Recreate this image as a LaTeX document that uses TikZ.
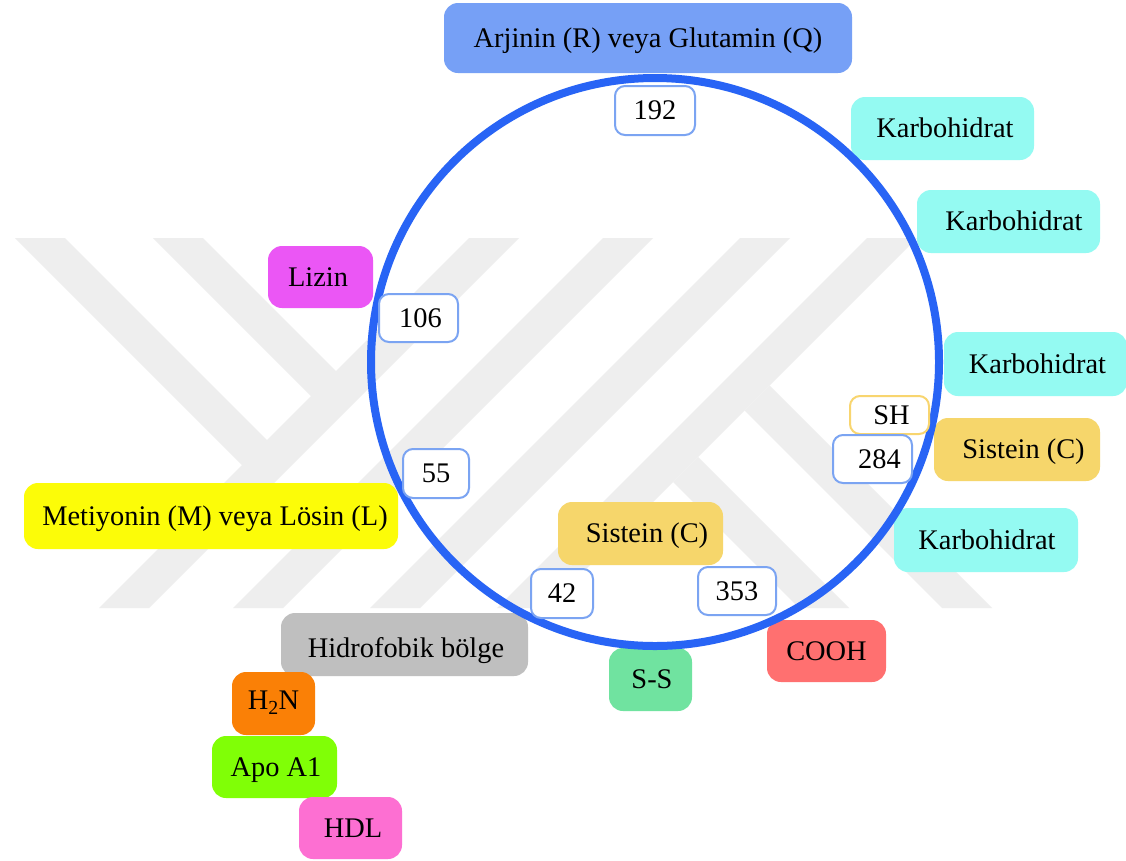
\documentclass[tikz,border=0pt]{standalone}
\usepackage{fontspec}
\setmainfont{Liberation Serif}
\definecolor{wmgray}{HTML}{EEEEEE}
\definecolor{arjcol}{HTML}{76A0F6}
\definecolor{circcol}{HTML}{2864F5}
\definecolor{numblue}{HTML}{7BA4F2}
\definecolor{karbcol}{HTML}{94FAF2}
\definecolor{lizcol}{HTML}{EB56F5}
\definecolor{shcol}{HTML}{F8D56F}
\definecolor{siscol}{HTML}{F6D66B}
\definecolor{metcol}{HTML}{FCFC08}
\definecolor{hidcol}{HTML}{BFBFBF}
\definecolor{coohcol}{HTML}{FF7070}
\definecolor{sscol}{HTML}{70E3A0}
\definecolor{h2ncol}{HTML}{FA8006}
\definecolor{apocol}{HTML}{80FF06}
\definecolor{hdlcol}{HTML}{FD6FD2}
\begin{document}
\begin{tikzpicture}[x=1pt,y=-1pt,
  every node/.style={font=\fontsize{28.4pt}{34pt}\selectfont, text height=18.8pt, text depth=0pt, inner sep=0pt, align=center},
  tagbox/.style={rounded corners=14pt, draw=none},
  numbox/.style={rounded corners=10pt, draw=numblue, line width=2pt, fill=white},
  shbox/.style={rounded corners=10pt, draw=shcol, line width=2pt, fill=white},
  wm/.style={fill=wmgray},
  ring/.style={draw=circcol, line width=8pt}]
\useasboundingbox (0,0) rectangle (1126,860);
\fill[white] (0,0) rectangle (1126,860);
% watermark
\fill[wm] (15,238) -- (65,238) -- (269.5,442.5) -- (244.5,467.5) -- cycle;
\fill[wm] (153,238) -- (203,238) -- (338.5,373.5) -- (313.5,398.5) -- cycle;
\fill[wm] (469,238) -- (519,238) -- (149,608) -- (99,608) -- cycle;
\fill[wm] (603,238) -- (653,238) -- (283,608) -- (233,608) -- cycle;
\fill[wm] (740,238) -- (790,238) -- (420,608) -- (370,608) -- cycle;
\fill[wm] (867,238) -- (917,238) -- (547,608) -- (497,608) -- cycle;
\fill[wm] (769.5,385.5) -- (992,608) -- (942,608) -- (744.5,410.5) -- cycle;
\fill[wm] (698,457) -- (849,608) -- (799,608) -- (673,482) -- cycle;
% coloured boxes
\node[tagbox, fill=arjcol, minimum width=408pt, minimum height=70pt] (arj) at (648,38) {Arjinin (R) veya Glutamin (Q)};
\node[tagbox, fill=karbcol, minimum width=183pt, minimum height=63pt] (k1) at (942.5,128.5) {\hspace*{5pt}Karbohidrat};
\node[tagbox, fill=karbcol, minimum width=183pt, minimum height=63pt] (k2) at (1008.5,221.5) {\hspace*{11pt}Karbohidrat};
\node[tagbox, fill=karbcol, minimum width=183pt, minimum height=64pt] (k3) at (1035.5,364) {\hspace*{4pt}Karbohidrat};
\node[tagbox, fill=lizcol, minimum width=105pt, minimum height=62pt] (lizin) at (320.5,277) {Lizin\hspace*{5pt}};
\node[tagbox, fill=siscol, minimum width=166pt, minimum height=63pt] (sis1) at (1017,449.5) {\hspace*{13pt}Sistein (C)};
\node[tagbox, fill=metcol, minimum width=374pt, minimum height=66pt] (met) at (211,516) {\hspace*{8pt}Metiyonin (M) veya Lösin (L)};
\node[tagbox, fill=siscol, minimum width=165pt, minimum height=63pt] (sis2) at (640.5,533.5) {\hspace*{13pt}Sistein (C)};
\node[tagbox, fill=karbcol, minimum width=184pt, minimum height=64pt] (k4) at (986,540) {\hspace*{2pt}Karbohidrat};
\node[tagbox, fill=hidcol, minimum width=247pt, minimum height=63pt] (hid) at (404.5,644.5) {\hspace*{3pt}\raisebox{-4pt}{Hidrofobik bölge}};
\node[tagbox, fill=coohcol, minimum width=119pt, minimum height=62pt] (cooh) at (826.5,651) {COOH};
\node[tagbox, fill=sscol, minimum width=83pt, minimum height=63pt] (ss) at (650.5,679.5) {\hspace*{3pt}S-S};
\node[tagbox, fill=h2ncol, minimum width=83pt, minimum height=63pt] (h2n) at (273.5,703.5) {\raisebox{3pt}{H\textsubscript{2}N}};
\node[tagbox, fill=apocol, minimum width=125pt, minimum height=62pt] (apo) at (274.5,767) {\hspace*{3pt}Apo A1};
\node[tagbox, fill=hdlcol, minimum width=103pt, minimum height=62pt] (hdl) at (350.5,828) {\hspace*{5pt}HDL};
% ring
\draw[ring] (655,362) circle[radius=284pt];
% number boxes
\node[numbox, minimum width=80pt, minimum height=49pt] (n192) at (655,110.5) {192};
\node[numbox, minimum width=79pt, minimum height=48pt] (n106) at (418.5,318) {\hspace*{4pt}106};
\node[shbox, minimum width=79pt, minimum height=38pt] (sh) at (889.5,415) {\hspace*{4pt}SH};
\node[numbox, minimum width=79pt, minimum height=48pt] (n284) at (872.5,459) {\hspace*{14pt}284};
\node[numbox, minimum width=66pt, minimum height=49pt] (n55) at (436,473.5) {55};
\node[numbox, minimum width=62pt, minimum height=49pt] (n42) at (562,593.5) {42};
\node[numbox, minimum width=78pt, minimum height=48pt] (n353) at (737,591) {353};
\end{tikzpicture}
\end{document}
